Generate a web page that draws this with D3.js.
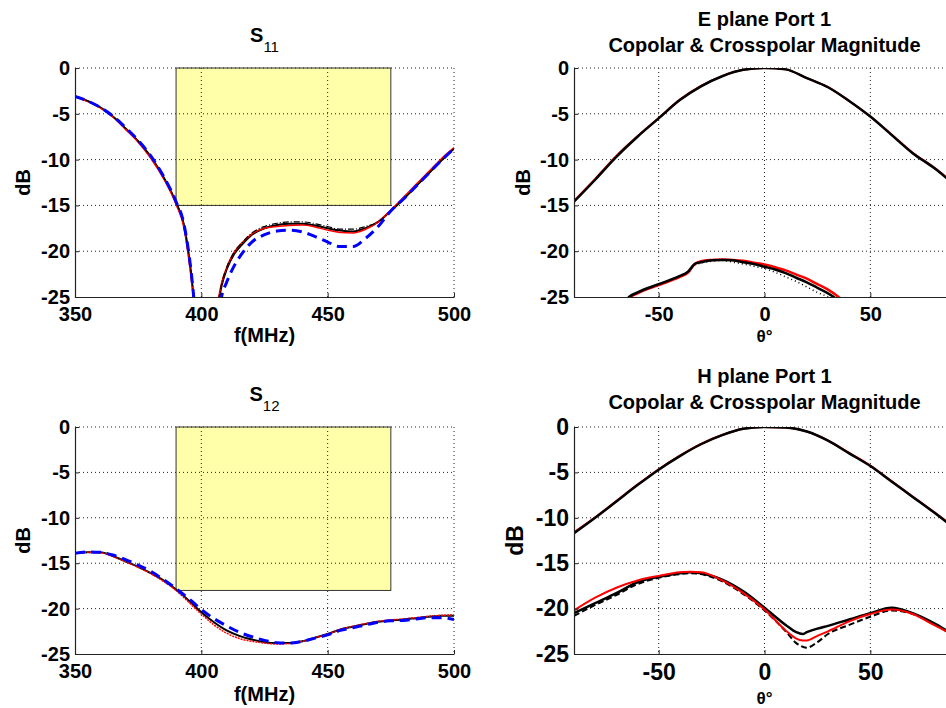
<!DOCTYPE html>
<html>
<head>
<meta charset="utf-8">
<script src="https://cdn.jsdelivr.net/npm/d3@7"></script>
<style>
body { margin:0; background:#fff; }
text { font-family: "Liberation Sans", Arial, sans-serif; }
</style>
</head>
<body>
<svg id="chart"></svg>
<script>
// ---- data ----
var freqs = [350,355,360,365,370,375,380,385,390,393,396,398,400,403,406,408,410,413,416,420,425,430,435,440,445,450,455,460,465,470,475,480,485,490,495,500];

var s11Black   = [-3.1,-3.6,-4.3,-5.3,-6.6,-8.0,-9.7,-11.9,-14.7,-17.0,-22.5,-28,-34,-34,-27,-23.8,-22.0,-20.3,-19.3,-18.2,-17.5,-17.15,-17.0,-17.0,-17.2,-17.5,-17.75,-17.85,-17.5,-16.8,-15.6,-14.3,-12.9,-11.5,-10.1,-8.8];
var s11Red     = [-3.1,-3.65,-4.35,-5.35,-6.7,-8.1,-9.85,-12.05,-14.9,-17.3,-23.0,-28,-34,-34,-26.5,-23.5,-21.8,-20.1,-19.1,-18.1,-17.5,-17.3,-17.2,-17.15,-17.35,-17.7,-17.95,-18.0,-17.6,-16.8,-15.5,-14.1,-12.7,-11.3,-9.9,-8.7];
var s11Dash    = [-3.1,-3.6,-4.3,-5.3,-6.6,-8.0,-9.7,-11.9,-14.7,-17.0,-22.5,-28,-34,-34,-27,-23.6,-21.8,-20.1,-19.1,-18.0,-17.3,-16.95,-16.8,-16.8,-17.0,-17.3,-17.6,-17.6,-17.3,-16.8,-15.6,-14.3,-12.9,-11.5,-10.1,-8.8];
var s11Blue    = [-3.1,-3.6,-4.3,-5.25,-6.5,-7.9,-9.6,-11.8,-14.6,-16.9,-22.3,-28,-34,-34,-29,-25,-23.4,-21.6,-20.3,-19.0,-18.2,-17.8,-17.7,-17.9,-18.4,-19.0,-19.5,-19.5,-18.6,-17.3,-15.6,-14.3,-12.9,-11.5,-10.1,-8.8];

var freqs12 = [350,355,360,365,370,375,380,385,390,395,400,405,410,415,420,425,430,435,440,445,450,455,460,465,470,475,480,485,490,495,500];
var s12Black = [-13.9,-13.8,-13.8,-14.2,-14.8,-15.4,-16.1,-16.9,-17.9,-19.1,-20.4,-21.5,-22.4,-23.0,-23.4,-23.7,-23.8,-23.8,-23.6,-23.2,-22.8,-22.3,-22.0,-21.7,-21.45,-21.3,-21.2,-21.05,-20.9,-20.8,-20.8];
var s12Red   = [-13.9,-13.8,-13.85,-14.25,-14.85,-15.45,-16.15,-17.0,-18.0,-19.3,-20.6,-21.8,-22.7,-23.3,-23.6,-23.8,-23.9,-23.85,-23.6,-23.2,-22.8,-22.3,-21.95,-21.65,-21.4,-21.25,-21.15,-21.0,-20.85,-20.75,-20.7];
var s12Blue  = [-13.9,-13.75,-13.8,-14.1,-14.6,-15.2,-15.9,-16.8,-17.8,-18.9,-20.1,-21.1,-21.9,-22.6,-23.1,-23.5,-23.75,-23.8,-23.6,-23.25,-22.9,-22.4,-22.1,-21.8,-21.5,-21.35,-21.3,-21.15,-21.0,-21.0,-21.2];

var yellowBand = {f0: 390, f1: 475};
var s11Limit = -15;
var s12Limit = -18;

var angles = [-90,-80,-70,-60,-50,-40,-30,-20,-10,0,10,20,30,40,50,60,70,80,90];
var eCoBlack = [-14.6,-12.2,-9.7,-7.5,-5.5,-3.5,-2.0,-0.9,-0.2,0,-0.15,-1.1,-2.1,-3.6,-5.3,-7.3,-9.3,-10.9,-12.8];
var eCoRed   = [-14.5,-12.1,-9.6,-7.45,-5.45,-3.45,-1.95,-0.88,-0.2,0,-0.15,-1.1,-2.1,-3.6,-5.3,-7.25,-9.25,-10.85,-12.7];

var crossAngles = [-70,-64,-60,-50,-40,-36,-33,-30,-25,-20,-15,-10,-5,0,5,10,15,20,25,30,35,40];
var eXBlack  = [-27,-25,-24.5,-23.6,-22.7,-22.2,-21.4,-21.2,-21.0,-20.95,-21.0,-21.2,-21.4,-21.7,-22.0,-22.4,-22.9,-23.4,-24.0,-24.6,-25.4,-26.5];
var eXRed    = [-27,-25.1,-24.6,-23.7,-22.8,-22.3,-21.4,-21.1,-20.95,-20.9,-20.95,-21.05,-21.25,-21.45,-21.75,-22.1,-22.55,-23.0,-23.6,-24.2,-25.0,-26.0];
var eXDot    = [-27,-25.1,-24.6,-23.7,-22.8,-22.3,-21.5,-21.3,-21.1,-21.0,-21.2,-21.4,-21.65,-21.9,-22.3,-22.8,-23.3,-23.9,-24.5,-25.0,-25.8,-27.0];

var hCoBlack = [-11.7,-10.0,-8.2,-6.4,-4.7,-3.2,-1.9,-0.9,-0.2,0,-0.05,-0.5,-1.5,-2.9,-4.3,-6.0,-7.7,-9.4,-11.2];
var hCoRed   = [-11.6,-9.95,-8.15,-6.35,-4.65,-3.15,-1.85,-0.88,-0.2,0,-0.05,-0.5,-1.5,-2.85,-4.25,-5.95,-7.65,-9.35,-11.1];

var hAngles = [-90,-80,-70,-60,-50,-40,-35,-30,-20,-10,0,10,15,18,20,25,30,40,50,60,70,80,90];
var hXBlack = [-20.5,-19.4,-18.3,-17.1,-16.5,-16.1,-16.0,-16.1,-16.8,-18.1,-19.9,-21.8,-22.6,-22.8,-22.6,-22.2,-21.9,-21.2,-20.5,-19.9,-20.5,-21.6,-23.0];
var hXRed   = [-20.2,-18.8,-17.7,-16.9,-16.4,-16.0,-15.95,-16.0,-16.9,-18.3,-20.1,-22.4,-23.3,-23.5,-23.5,-23.0,-22.5,-21.4,-20.6,-20.1,-20.6,-21.8,-23.0];
var hXDash  = [-20.8,-19.6,-18.5,-17.3,-16.6,-16.2,-16.1,-16.2,-17.0,-18.4,-20.2,-22.5,-23.8,-24.2,-24.3,-23.7,-22.8,-21.8,-20.9,-20.2,-20.6,-21.7,-23.1];

var dBTicks = [-25,-20,-15,-10,-5,0];
var freqTicks = [350,400,450,500];
var angleTicks = [-50,0,50];

// ---- layout ----
var screen = {width: 946, height: 708};

var svg = d3.select("#chart")
    .attr("width", screen.width)
    .attr("height", screen.height);

svg.append("rect").attr("width", screen.width).attr("height", screen.height).attr("fill", "#fff");

var zip = function(xs, ys){
    return xs.map(function(x, i){ return [x, ys[i]]; });
}

var makePanel = function(p)
{
    var xScale = d3.scaleLinear().domain(p.xDomain).range([p.left, p.right]);
    var yScale = d3.scaleLinear().domain([-25, 0]).range([p.bottom, p.top]);

    var g = svg.append("g").attr("id", p.id);

    g.append("clipPath").attr("id", p.id + "clip")
        .append("rect")
        .attr("x", p.left).attr("y", p.top)
        .attr("width", p.right - p.left).attr("height", p.bottom - p.top);

    // yellow spec box
    if (p.box) {
        g.append("rect")
            .attr("x", xScale(p.box.x0))
            .attr("y", yScale(0))
            .attr("width", xScale(p.box.x1) - xScale(p.box.x0))
            .attr("height", yScale(p.box.y) - yScale(0))
            .attr("fill", "#ffffaa")
            .attr("stroke", "#333")
            .attr("stroke-width", 1);
    }

    // dotted grid
    var xGrid = p.xTicks.filter(function(t){ return t != p.xDomain[0]; });
    g.selectAll(".vgrid")
        .data(xGrid)
        .enter()
        .append("line")
        .attr("x1", function(t){ return xScale(t); })
        .attr("x2", function(t){ return xScale(t); })
        .attr("y1", p.top).attr("y2", p.bottom)
        .attr("stroke", "#222").attr("stroke-width", 1)
        .attr("stroke-dasharray", "1,3");

    g.selectAll(".hgrid")
        .data(dBTicks.filter(function(t){ return t != -25; }))
        .enter()
        .append("line")
        .attr("x1", p.left).attr("x2", p.right)
        .attr("y1", function(t){ return yScale(t); })
        .attr("y2", function(t){ return yScale(t); })
        .attr("stroke", "#222").attr("stroke-width", 1)
        .attr("stroke-dasharray", "1,3");

    // curves
    var line = d3.line()
        .x(function(d){ return xScale(d[0]); })
        .y(function(d){ return yScale(d[1]); })
        .curve(d3.curveMonotoneX);

    g.append("g")
        .attr("clip-path", "url(#" + p.id + "clip)")
        .selectAll("path")
        .data(p.series)
        .enter()
        .append("path")
        .attr("d", function(s){ return line(zip(s.x, s.y)); })
        .attr("fill", "none")
        .attr("stroke", function(s){ return s.color; })
        .attr("stroke-width", function(s){ return s.width; })
        .attr("stroke-dasharray", function(s){ return s.dash || null; });

    // axes
    var xAxis = d3.axisBottom(xScale).tickValues(p.xTicks).tickSizeInner(-4).tickSizeOuter(0).tickPadding(10);
    var yAxis = d3.axisLeft(yScale).tickValues(dBTicks).tickSizeInner(-4).tickSizeOuter(0).tickPadding(5);

    var xg = g.append("g")
        .attr("transform", "translate(0," + p.bottom + ")")
        .call(xAxis);
    var yg = g.append("g")
        .attr("transform", "translate(" + p.left + ",0)")
        .call(yAxis);

    [xg, yg].forEach(function(a, i){
        a.attr("font-family", null).attr("font-size", null);
        a.select(".domain").attr("stroke", "#222").attr("stroke-width", 1.2);
        a.selectAll(".tick line").attr("stroke", "#222");
        a.selectAll(".tick text")
            .attr("fill", "#000")
            .style("font-weight", "bold")
            .style("font-size", (i == 0 ? p.xFont : p.yFont) + "px")
            .text(function(t){ return String(t).replace("-", "-"); });
    });

    // labels
    g.append("text")
        .attr("transform", "translate(" + p.yLabelX + "," + (p.top + p.bottom) / 2 + ") rotate(-90)")
        .attr("text-anchor", "middle")
        .style("font-weight", "bold")
        .style("font-size", p.yLabelFont + "px")
        .text("dB");

    g.append("text")
        .attr("x", (p.left + p.right) / 2)
        .attr("y", p.xLabelY)
        .attr("text-anchor", "middle")
        .style("font-weight", "bold")
        .style("font-size", p.xLabelFont + "px")
        .text(p.xLabel);

    var title = g.append("text")
        .attr("x", (p.left + p.right) / 2)
        .attr("y", p.titleY)
        .attr("text-anchor", "middle")
        .style("font-weight", "bold")
        .style("font-size", "20px");

    if (p.sub) {
        title.append("tspan").text(p.title);
        title.append("tspan")
            .attr("dy", 10)
            .style("font-weight", "normal")
            .style("font-size", "15px")
            .text(p.sub);
    } else {
        title.append("tspan").attr("x", (p.left + p.right) / 2).text(p.title[0]);
        title.append("tspan").attr("x", (p.left + p.right) / 2).attr("dy", 26).text(p.title[1]);
    }
}

makePanel({
    id: "s11", left: 75, right: 454, top: 68, bottom: 297,
    xDomain: [350, 500], xTicks: freqTicks, xFont: 20, yFont: 20,
    box: {x0: yellowBand.f0, x1: yellowBand.f1, y: s11Limit},
    yLabelX: 30, yLabelFont: 20, xLabel: "f(MHz)", xLabelY: 342, xLabelFont: 20,
    title: "S", sub: "11", titleY: 42,
    series: [
        {x: freqs, y: s11Black, color: "#000", width: 2},
        {x: freqs, y: s11Red, color: "#ff0000", width: 1.5},
        {x: freqs, y: s11Dash, color: "#000", width: 1.2, dash: "6,2,1,2"},
        {x: freqs, y: s11Blue, color: "#0000ff", width: 3, dash: "10,6"}
    ]
});

makePanel({
    id: "s12", left: 75, right: 454, top: 427, bottom: 654,
    xDomain: [350, 500], xTicks: freqTicks, xFont: 20, yFont: 20,
    box: {x0: yellowBand.f0, x1: yellowBand.f1, y: s12Limit},
    yLabelX: 30, yLabelFont: 20, xLabel: "f(MHz)", xLabelY: 701, xLabelFont: 20,
    title: "S", sub: "12", titleY: 401,
    series: [
        {x: freqs12, y: s12Black, color: "#000", width: 2},
        {x: freqs12, y: s12Red, color: "#ff0000", width: 1.5, dash: "2,1"},
        {x: freqs12, y: s12Blue, color: "#0000ff", width: 3, dash: "10,6"}
    ]
});

makePanel({
    id: "eplane", left: 574, right: 955, top: 68, bottom: 297,
    xDomain: [-90, 90], xTicks: angleTicks, xFont: 20, yFont: 20,
    yLabelX: 530, yLabelFont: 20, xLabel: "θ°", xLabelY: 342, xLabelFont: 17,
    title: ["E plane Port 1", "Copolar & Crosspolar Magnitude"], titleY: 26,
    series: [
        {x: angles, y: eCoRed, color: "#ff0000", width: 2},
        {x: angles, y: eCoBlack, color: "#000", width: 2.5},
        {x: crossAngles, y: eXDot, color: "#000", width: 1.5, dash: "1,3"},
        {x: crossAngles, y: eXRed, color: "#ff0000", width: 2.5},
        {x: crossAngles, y: eXBlack, color: "#000", width: 2.5}
    ]
});

makePanel({
    id: "hplane", left: 574, right: 955, top: 427, bottom: 654,
    xDomain: [-90, 90], xTicks: angleTicks, xFont: 23, yFont: 23,
    yLabelX: 523, yLabelFont: 23, xLabel: "θ°", xLabelY: 704, xLabelFont: 17,
    title: ["H plane Port 1", "Copolar & Crosspolar Magnitude"], titleY: 383,
    series: [
        {x: angles, y: hCoRed, color: "#ff0000", width: 2},
        {x: angles, y: hCoBlack, color: "#000", width: 2.5},
        {x: hAngles, y: hXDash, color: "#000", width: 2, dash: "6,3"},
        {x: hAngles, y: hXBlack, color: "#000", width: 2.5},
        {x: hAngles, y: hXRed, color: "#ff0000", width: 2}
    ]
});
</script>
</body>
</html>
